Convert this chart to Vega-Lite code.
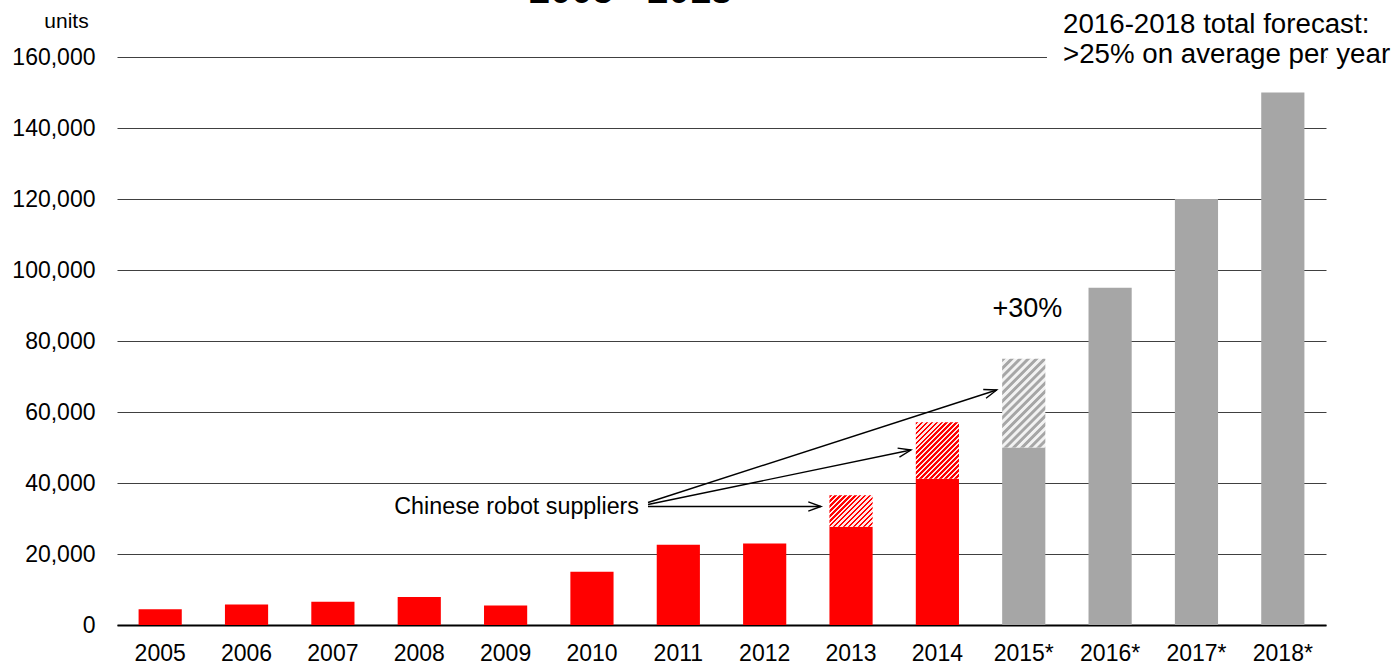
{
  "$schema": "https://vega.github.io/schema/vega-lite/v6.json",
  "width": 1209,
  "height": 568,
  "autosize": {"type": "none"},
  "padding": {"left": 117, "top": 57, "right": 70, "bottom": 41},
  "background": "white",
  "config": {"font": "Liberation Sans", "view": {"stroke": null}},
  "datasets": {
    "bars": [
      {"year": "2005", "value": 4461, "type": "actual"},
      {"year": "2006", "value": 5770, "type": "actual"},
      {"year": "2007", "value": 6581, "type": "actual"},
      {"year": "2008", "value": 7879, "type": "actual"},
      {"year": "2009", "value": 5525, "type": "actual"},
      {"year": "2010", "value": 14978, "type": "actual"},
      {"year": "2011", "value": 22577, "type": "actual"},
      {"year": "2012", "value": 22987, "type": "actual"},
      {"year": "2013", "value": 27700, "type": "actual"},
      {"year": "2014", "value": 41200, "type": "actual"},
      {"year": "2015*", "value": 50000, "type": "forecast"},
      {"year": "2016*", "value": 95000, "type": "forecast"},
      {"year": "2017*", "value": 120000, "type": "forecast"},
      {"year": "2018*", "value": 150000, "type": "forecast"}
    ],
    "chinese2013": [{"year": "2013", "lo": 27700, "hi": 36560}],
    "chinese2014": [{"year": "2014", "lo": 41200, "hi": 57100}],
    "extra2015": [{"year": "2015*", "lo": 50000, "hi": 75000}],
    "cover": [{"x": 10.769, "x2": 14, "y": 159000, "y2": 161000}],
    "label_title": [{"x": 5.946, "y": 175211, "t": "2005 - 2018"}],
    "label_suppliers": [{"x": 6.045, "y": 31268, "t": "Chinese robot suppliers"}],
    "label_growth": [{"x": 10.543, "y": 86676, "t": "+30%"}],
    "label_forecast": [
      {"x": 10.955, "y": 166845, "t": "2016-2018 total forecast:"},
      {"x": 10.955, "y": 158225, "t": ">25% on average per year"}
    ],
    "arrows": [
      {"x": 6.149, "y": 33380, "x2": 8.152, "y2": 33380, "dir": 0},
      {"x": 6.149, "y": 33943, "x2": 9.194, "y2": 49296, "dir": -11.7},
      {"x": 6.149, "y": 34507, "x2": 10.187, "y2": 66197, "dir": -17.9}
    ]
  },
  "layer": [
    {
      "layer": [
        {
          "data": {"name": "bars"},
          "mark": {"type": "bar"},
          "encoding": {
            "x": {
              "field": "year", "type": "nominal", "sort": null,
              "scale": {"domain": ["2005","2006","2007","2008","2009","2010","2011","2012","2013","2014","2015*","2016*","2017*","2018*"], "paddingInner": 0.5, "paddingOuter": 0.25},
              "axis": {"title": null, "labelAngle": 0, "labelFontSize": 23, "labelColor": "black", "labelFont": "Liberation Sans", "ticks": false, "tickSize": 0, "labelPadding": 17, "domainColor": "black", "domainWidth": 2, "grid": false}
            },
            "y": {
              "field": "value", "type": "quantitative", "stack": null,
              "scale": {"domain": [0, 160000], "nice": false, "zero": true},
              "axis": {"grid": true, "gridColor": "#404040", "gridWidth": 1, "domain": false, "ticks": false, "tickSize": 0, "labelFontSize": 23, "labelColor": "black", "labelFont": "Liberation Sans", "labelPadding": 22, "values": [0, 20000, 40000, 60000, 80000, 100000, 120000, 140000, 160000], "format": ",", "labelExpr": "format(datum.value, ',')", "title": "units", "titleAngle": 0, "titleFontSize": 21, "titleFontWeight": "normal", "titleFont": "Liberation Sans", "titleColor": "black", "titleX": -51, "titleY": -30, "titleAlign": "center", "titleBaseline": "alphabetic"}
            },
            "color": {"field": "type", "type": "nominal", "scale": {"domain": ["actual", "forecast"], "range": ["#ff0000", "#a6a6a6"]}, "legend": null}
          }
        },
        {
          "data": {"name": "chinese2013"},
          "mark": {"type": "bar", "color": {"gradient": "linear", "x1": 0, "y1": 0, "x2": 1.1293, "y2": 0.8225, "stops": [
            {"offset": 0, "color": "#ff0000"}, {"offset": 0.0333, "color": "#ff0000"}, {"offset": 0.0333, "color": "#ffe8e8"}, {"offset": 0.0667, "color": "#ffe8e8"},
            {"offset": 0.0667, "color": "#ff0000"}, {"offset": 0.1, "color": "#ff0000"}, {"offset": 0.1, "color": "#ffe8e8"}, {"offset": 0.1333, "color": "#ffe8e8"},
            {"offset": 0.1333, "color": "#ff0000"}, {"offset": 0.1667, "color": "#ff0000"}, {"offset": 0.1667, "color": "#ffe8e8"}, {"offset": 0.2, "color": "#ffe8e8"},
            {"offset": 0.2, "color": "#ff0000"}, {"offset": 0.2333, "color": "#ff0000"}, {"offset": 0.2333, "color": "#ffe8e8"}, {"offset": 0.2667, "color": "#ffe8e8"},
            {"offset": 0.2667, "color": "#ff0000"}, {"offset": 0.3, "color": "#ff0000"}, {"offset": 0.3, "color": "#ffe8e8"}, {"offset": 0.3333, "color": "#ffe8e8"},
            {"offset": 0.3333, "color": "#ff0000"}, {"offset": 0.3667, "color": "#ff0000"}, {"offset": 0.3667, "color": "#ffe8e8"}, {"offset": 0.4, "color": "#ffe8e8"},
            {"offset": 0.4, "color": "#ff0000"}, {"offset": 0.4333, "color": "#ff0000"}, {"offset": 0.4333, "color": "#ffe8e8"}, {"offset": 0.4667, "color": "#ffe8e8"},
            {"offset": 0.4667, "color": "#ff0000"}, {"offset": 0.5, "color": "#ff0000"}, {"offset": 0.5, "color": "#ffe8e8"}, {"offset": 0.5333, "color": "#ffe8e8"},
            {"offset": 0.5333, "color": "#ff0000"}, {"offset": 0.5667, "color": "#ff0000"}, {"offset": 0.5667, "color": "#ffe8e8"}, {"offset": 0.6, "color": "#ffe8e8"},
            {"offset": 0.6, "color": "#ff0000"}, {"offset": 0.6333, "color": "#ff0000"}, {"offset": 0.6333, "color": "#ffe8e8"}, {"offset": 0.6667, "color": "#ffe8e8"},
            {"offset": 0.6667, "color": "#ff0000"}, {"offset": 0.7, "color": "#ff0000"}, {"offset": 0.7, "color": "#ffe8e8"}, {"offset": 0.7333, "color": "#ffe8e8"},
            {"offset": 0.7333, "color": "#ff0000"}, {"offset": 0.7667, "color": "#ff0000"}, {"offset": 0.7667, "color": "#ffe8e8"}, {"offset": 0.8, "color": "#ffe8e8"},
            {"offset": 0.8, "color": "#ff0000"}, {"offset": 0.8333, "color": "#ff0000"}, {"offset": 0.8333, "color": "#ffe8e8"}, {"offset": 0.8667, "color": "#ffe8e8"},
            {"offset": 0.8667, "color": "#ff0000"}, {"offset": 0.9, "color": "#ff0000"}, {"offset": 0.9, "color": "#ffe8e8"}, {"offset": 0.9333, "color": "#ffe8e8"},
            {"offset": 0.9333, "color": "#ff0000"}, {"offset": 0.9667, "color": "#ff0000"}, {"offset": 0.9667, "color": "#ffe8e8"}, {"offset": 1, "color": "#ffe8e8"}
          ]}},
          "encoding": {
            "x": {"field": "year", "type": "nominal", "sort": null, "scale": {"domain": ["2005","2006","2007","2008","2009","2010","2011","2012","2013","2014","2015*","2016*","2017*","2018*"], "paddingInner": 0.5, "paddingOuter": 0.25}},
            "y": {"field": "lo", "type": "quantitative", "stack": null, "scale": {"domain": [0, 160000], "nice": false, "zero": true}},
            "y2": {"field": "hi"}
          }
        },
        {
          "data": {"name": "chinese2014"},
          "mark": {"type": "bar", "color": {"gradient": "linear", "x1": 0, "y1": 0, "x2": 0.8517, "y2": 1.1134, "stops": [
            {"offset": 0, "color": "#ff0000"}, {"offset": 0.025, "color": "#ff0000"}, {"offset": 0.025, "color": "#ffe8e8"}, {"offset": 0.05, "color": "#ffe8e8"},
            {"offset": 0.05, "color": "#ff0000"}, {"offset": 0.075, "color": "#ff0000"}, {"offset": 0.075, "color": "#ffe8e8"}, {"offset": 0.1, "color": "#ffe8e8"},
            {"offset": 0.1, "color": "#ff0000"}, {"offset": 0.125, "color": "#ff0000"}, {"offset": 0.125, "color": "#ffe8e8"}, {"offset": 0.15, "color": "#ffe8e8"},
            {"offset": 0.15, "color": "#ff0000"}, {"offset": 0.175, "color": "#ff0000"}, {"offset": 0.175, "color": "#ffe8e8"}, {"offset": 0.2, "color": "#ffe8e8"},
            {"offset": 0.2, "color": "#ff0000"}, {"offset": 0.225, "color": "#ff0000"}, {"offset": 0.225, "color": "#ffe8e8"}, {"offset": 0.25, "color": "#ffe8e8"},
            {"offset": 0.25, "color": "#ff0000"}, {"offset": 0.275, "color": "#ff0000"}, {"offset": 0.275, "color": "#ffe8e8"}, {"offset": 0.3, "color": "#ffe8e8"},
            {"offset": 0.3, "color": "#ff0000"}, {"offset": 0.325, "color": "#ff0000"}, {"offset": 0.325, "color": "#ffe8e8"}, {"offset": 0.35, "color": "#ffe8e8"},
            {"offset": 0.35, "color": "#ff0000"}, {"offset": 0.375, "color": "#ff0000"}, {"offset": 0.375, "color": "#ffe8e8"}, {"offset": 0.4, "color": "#ffe8e8"},
            {"offset": 0.4, "color": "#ff0000"}, {"offset": 0.425, "color": "#ff0000"}, {"offset": 0.425, "color": "#ffe8e8"}, {"offset": 0.45, "color": "#ffe8e8"},
            {"offset": 0.45, "color": "#ff0000"}, {"offset": 0.475, "color": "#ff0000"}, {"offset": 0.475, "color": "#ffe8e8"}, {"offset": 0.5, "color": "#ffe8e8"},
            {"offset": 0.5, "color": "#ff0000"}, {"offset": 0.525, "color": "#ff0000"}, {"offset": 0.525, "color": "#ffe8e8"}, {"offset": 0.55, "color": "#ffe8e8"},
            {"offset": 0.55, "color": "#ff0000"}, {"offset": 0.575, "color": "#ff0000"}, {"offset": 0.575, "color": "#ffe8e8"}, {"offset": 0.6, "color": "#ffe8e8"},
            {"offset": 0.6, "color": "#ff0000"}, {"offset": 0.625, "color": "#ff0000"}, {"offset": 0.625, "color": "#ffe8e8"}, {"offset": 0.65, "color": "#ffe8e8"},
            {"offset": 0.65, "color": "#ff0000"}, {"offset": 0.675, "color": "#ff0000"}, {"offset": 0.675, "color": "#ffe8e8"}, {"offset": 0.7, "color": "#ffe8e8"},
            {"offset": 0.7, "color": "#ff0000"}, {"offset": 0.725, "color": "#ff0000"}, {"offset": 0.725, "color": "#ffe8e8"}, {"offset": 0.75, "color": "#ffe8e8"},
            {"offset": 0.75, "color": "#ff0000"}, {"offset": 0.775, "color": "#ff0000"}, {"offset": 0.775, "color": "#ffe8e8"}, {"offset": 0.8, "color": "#ffe8e8"},
            {"offset": 0.8, "color": "#ff0000"}, {"offset": 0.825, "color": "#ff0000"}, {"offset": 0.825, "color": "#ffe8e8"}, {"offset": 0.85, "color": "#ffe8e8"},
            {"offset": 0.85, "color": "#ff0000"}, {"offset": 0.875, "color": "#ff0000"}, {"offset": 0.875, "color": "#ffe8e8"}, {"offset": 0.9, "color": "#ffe8e8"},
            {"offset": 0.9, "color": "#ff0000"}, {"offset": 0.925, "color": "#ff0000"}, {"offset": 0.925, "color": "#ffe8e8"}, {"offset": 0.95, "color": "#ffe8e8"},
            {"offset": 0.95, "color": "#ff0000"}, {"offset": 0.975, "color": "#ff0000"}, {"offset": 0.975, "color": "#ffe8e8"}, {"offset": 1, "color": "#ffe8e8"}
          ]}},
          "encoding": {
            "x": {"field": "year", "type": "nominal", "sort": null, "scale": {"domain": ["2005","2006","2007","2008","2009","2010","2011","2012","2013","2014","2015*","2016*","2017*","2018*"], "paddingInner": 0.5, "paddingOuter": 0.25}},
            "y": {"field": "lo", "type": "quantitative", "stack": null, "scale": {"domain": [0, 160000], "nice": false, "zero": true}},
            "y2": {"field": "hi"}
          }
        },
        {
          "data": {"name": "extra2015"},
          "mark": {"type": "bar", "color": {"gradient": "linear", "x1": 0, "y1": 0, "x2": 0.5848, "y2": 1.202, "stops": [
            {"offset": 0, "color": "#a6a6a6"}, {"offset": 0.0219, "color": "#a6a6a6"}, {"offset": 0.0313, "color": "#f2f2f2"}, {"offset": 0.0531, "color": "#f2f2f2"},
            {"offset": 0.0625, "color": "#a6a6a6"}, {"offset": 0.0844, "color": "#a6a6a6"}, {"offset": 0.0938, "color": "#f2f2f2"}, {"offset": 0.1156, "color": "#f2f2f2"},
            {"offset": 0.125, "color": "#a6a6a6"}, {"offset": 0.1469, "color": "#a6a6a6"}, {"offset": 0.1563, "color": "#f2f2f2"}, {"offset": 0.1781, "color": "#f2f2f2"},
            {"offset": 0.1875, "color": "#a6a6a6"}, {"offset": 0.2094, "color": "#a6a6a6"}, {"offset": 0.2188, "color": "#f2f2f2"}, {"offset": 0.2406, "color": "#f2f2f2"},
            {"offset": 0.25, "color": "#a6a6a6"}, {"offset": 0.2719, "color": "#a6a6a6"}, {"offset": 0.2813, "color": "#f2f2f2"}, {"offset": 0.3031, "color": "#f2f2f2"},
            {"offset": 0.3125, "color": "#a6a6a6"}, {"offset": 0.3344, "color": "#a6a6a6"}, {"offset": 0.3438, "color": "#f2f2f2"}, {"offset": 0.3656, "color": "#f2f2f2"},
            {"offset": 0.375, "color": "#a6a6a6"}, {"offset": 0.3969, "color": "#a6a6a6"}, {"offset": 0.4063, "color": "#f2f2f2"}, {"offset": 0.4281, "color": "#f2f2f2"},
            {"offset": 0.4375, "color": "#a6a6a6"}, {"offset": 0.4594, "color": "#a6a6a6"}, {"offset": 0.4688, "color": "#f2f2f2"}, {"offset": 0.4906, "color": "#f2f2f2"},
            {"offset": 0.5, "color": "#a6a6a6"}, {"offset": 0.5219, "color": "#a6a6a6"}, {"offset": 0.5313, "color": "#f2f2f2"}, {"offset": 0.5531, "color": "#f2f2f2"},
            {"offset": 0.5625, "color": "#a6a6a6"}, {"offset": 0.5844, "color": "#a6a6a6"}, {"offset": 0.5938, "color": "#f2f2f2"}, {"offset": 0.6156, "color": "#f2f2f2"},
            {"offset": 0.625, "color": "#a6a6a6"}, {"offset": 0.6469, "color": "#a6a6a6"}, {"offset": 0.6563, "color": "#f2f2f2"}, {"offset": 0.6781, "color": "#f2f2f2"},
            {"offset": 0.6875, "color": "#a6a6a6"}, {"offset": 0.7094, "color": "#a6a6a6"}, {"offset": 0.7188, "color": "#f2f2f2"}, {"offset": 0.7406, "color": "#f2f2f2"},
            {"offset": 0.75, "color": "#a6a6a6"}, {"offset": 0.7719, "color": "#a6a6a6"}, {"offset": 0.7813, "color": "#f2f2f2"}, {"offset": 0.8031, "color": "#f2f2f2"},
            {"offset": 0.8125, "color": "#a6a6a6"}, {"offset": 0.8344, "color": "#a6a6a6"}, {"offset": 0.8438, "color": "#f2f2f2"}, {"offset": 0.8656, "color": "#f2f2f2"},
            {"offset": 0.875, "color": "#a6a6a6"}, {"offset": 0.8969, "color": "#a6a6a6"}, {"offset": 0.9063, "color": "#f2f2f2"}, {"offset": 0.9281, "color": "#f2f2f2"},
            {"offset": 0.9375, "color": "#a6a6a6"}, {"offset": 0.9594, "color": "#a6a6a6"}, {"offset": 0.9688, "color": "#f2f2f2"}, {"offset": 0.9906, "color": "#f2f2f2"},
            {"offset": 1, "color": "#a6a6a6"}
          ]}},
          "encoding": {
            "x": {"field": "year", "type": "nominal", "sort": null, "scale": {"domain": ["2005","2006","2007","2008","2009","2010","2011","2012","2013","2014","2015*","2016*","2017*","2018*"], "paddingInner": 0.5, "paddingOuter": 0.25}},
            "y": {"field": "lo", "type": "quantitative", "stack": null, "scale": {"domain": [0, 160000], "nice": false, "zero": true}},
            "y2": {"field": "hi"}
          }
        }
      ]
    },
    {
      "layer": [
        {
          "data": {"name": "cover"},
          "mark": {"type": "rect", "color": "white"},
          "encoding": {
            "x": {"field": "x", "type": "quantitative", "scale": {"domain": [0, 14], "nice": false, "zero": false}, "axis": null},
            "x2": {"field": "x2"},
            "y": {"field": "y", "type": "quantitative", "scale": {"domain": [0, 160000], "nice": false, "zero": true}},
            "y2": {"field": "y2"}
          }
        },
        {
          "data": {"name": "label_title"},
          "mark": {"type": "text", "align": "center", "baseline": "alphabetic", "fontSize": 38, "fontWeight": "bold", "font": "Liberation Sans", "color": "black"},
          "encoding": {
            "x": {"field": "x", "type": "quantitative", "scale": {"domain": [0, 14], "nice": false, "zero": false}, "axis": null},
            "y": {"field": "y", "type": "quantitative", "scale": {"domain": [0, 160000], "nice": false, "zero": true}},
            "text": {"field": "t"}
          }
        },
        {
          "data": {"name": "label_suppliers"},
          "mark": {"type": "text", "align": "right", "baseline": "alphabetic", "fontSize": 23.3, "font": "Liberation Sans", "color": "black"},
          "encoding": {
            "x": {"field": "x", "type": "quantitative", "scale": {"domain": [0, 14], "nice": false, "zero": false}, "axis": null},
            "y": {"field": "y", "type": "quantitative", "scale": {"domain": [0, 160000], "nice": false, "zero": true}},
            "text": {"field": "t"}
          }
        },
        {
          "data": {"name": "label_growth"},
          "mark": {"type": "text", "align": "center", "baseline": "alphabetic", "fontSize": 27, "font": "Liberation Sans", "color": "black"},
          "encoding": {
            "x": {"field": "x", "type": "quantitative", "scale": {"domain": [0, 14], "nice": false, "zero": false}, "axis": null},
            "y": {"field": "y", "type": "quantitative", "scale": {"domain": [0, 160000], "nice": false, "zero": true}},
            "text": {"field": "t"}
          }
        },
        {
          "data": {"name": "label_forecast"},
          "mark": {"type": "text", "align": "left", "baseline": "alphabetic", "fontSize": 27.7, "font": "Liberation Sans", "color": "black"},
          "encoding": {
            "x": {"field": "x", "type": "quantitative", "scale": {"domain": [0, 14], "nice": false, "zero": false}, "axis": null},
            "y": {"field": "y", "type": "quantitative", "scale": {"domain": [0, 160000], "nice": false, "zero": true}},
            "text": {"field": "t"}
          }
        },
        {
          "data": {"name": "arrows"},
          "mark": {"type": "rule", "color": "black", "strokeWidth": 1.4},
          "encoding": {
            "x": {"field": "x", "type": "quantitative", "scale": {"domain": [0, 14], "nice": false, "zero": false}, "axis": null},
            "y": {"field": "y", "type": "quantitative", "scale": {"domain": [0, 160000], "nice": false, "zero": true}},
            "x2": {"field": "x2"},
            "y2": {"field": "y2"}
          }
        },
        {
          "data": {"name": "arrows"},
          "mark": {"type": "point", "shape": "M-1,-0.36L0,0L-1,0.36", "filled": false, "color": "black", "strokeWidth": 1.4, "size": 645, "opacity": 1},
          "encoding": {
            "x": {"field": "x2", "type": "quantitative", "scale": {"domain": [0, 14], "nice": false, "zero": false}, "axis": null},
            "y": {"field": "y2", "type": "quantitative", "scale": {"domain": [0, 160000], "nice": false, "zero": true}},
            "angle": {"field": "dir", "type": "quantitative", "scale": null}
          }
        }
      ]
    }
  ],
  "resolve": {"scale": {"x": "independent"}}
}
